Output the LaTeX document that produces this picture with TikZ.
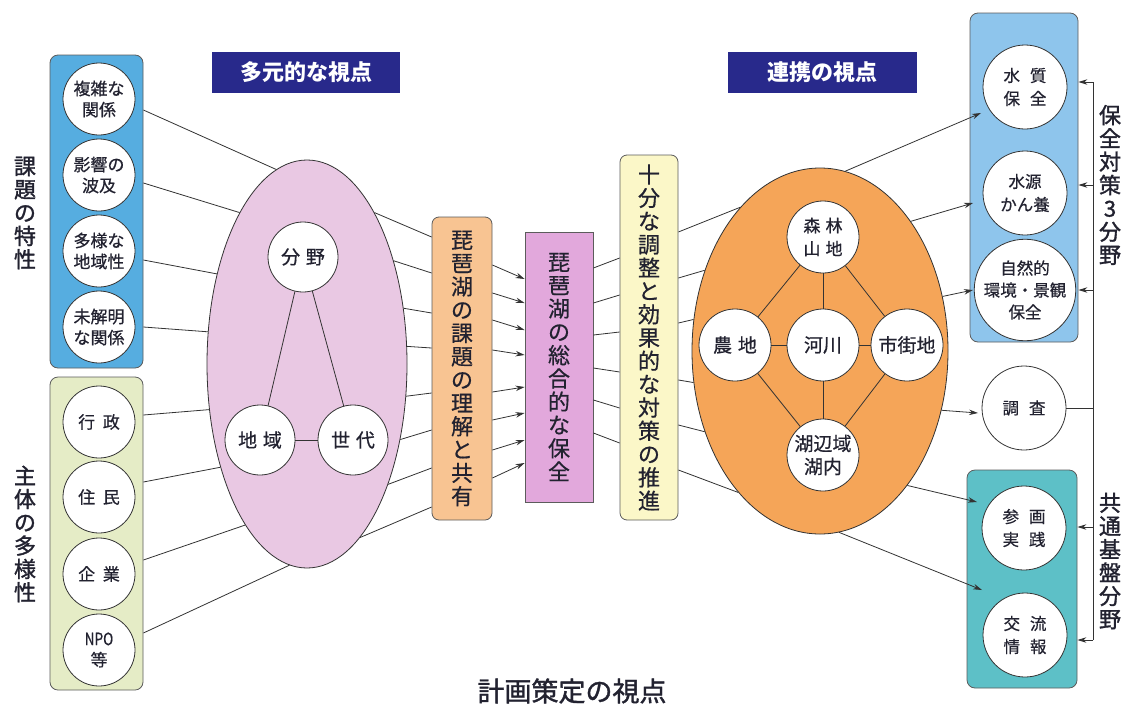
\documentclass[tikz,border=0pt]{standalone}
\usepackage{fontspec}
\newfontfamily\cjk[BoldFont={Noto Sans CJK JP},BoldFeatures={FakeBold=0.6}]{Noto Sans CJK JP}
\newfontfamily\cjkm[BoldFont={Noto Sans CJK JP},BoldFeatures={FakeBold=1.4}]{Noto Sans CJK JP}
\newfontfamily\cjkh{Noto Sans CJK JP}
\usetikzlibrary{shapes.geometric,arrows.meta,calc}
\newcommand\myfs[2]{\fontsize{#1}{#2}\selectfont}
\definecolor{blueL}{HTML}{56ADE0}
\definecolor{blueR}{HTML}{8EC5EC}
\definecolor{greenP}{HTML}{E5ECC6}
\definecolor{pinkO}{HTML}{E9C8E3}
\definecolor{orangeB}{HTML}{F8C492}
\definecolor{purpleB}{HTML}{E2A8DC}
\definecolor{yellowB}{HTML}{FBF7C8}
\definecolor{orangeO}{HTML}{F5A558}
\definecolor{tealP}{HTML}{5DC0C7}
\definecolor{navy}{HTML}{28298B}
\definecolor{linec}{HTML}{333333}
\definecolor{txt}{HTML}{222230}
\begin{document}
\begin{tikzpicture}[x=1pt,y=-1pt,
  ln/.style={draw=linec,line width=0.8pt},
  arr/.style={ln,-{Stealth[length=9pt,width=5.5pt]}},
  panel/.style={draw=linec!80,line width=0.8pt,rounded corners=8pt,inner sep=0pt},
  cnode/.style={circle,draw=linec,fill=white,line width=0.8pt,inner sep=0pt,minimum size=#1,align=center,text=txt},
  cnode/.default=72pt,
  vbox/.style={draw=linec!80,line width=0.8pt,inner sep=0pt,align=center,text=txt,font=\cjk\bfseries\myfs{22}{23.3}},
  vlab/.style={align=center,text=txt,font=\cjkm\bfseries\myfs{22}{23.3},inner sep=0pt},
  head/.style={fill=navy,text=white,inner sep=0pt,minimum height=41pt,font=\cjkh\bfseries\myfs{22}{24}},
  oval/.style={ellipse,draw=linec,line width=0.8pt,inner sep=0pt},
  sf/.style={font=\cjk\bfseries\myfs{17}{21}},
  mf/.style={font=\cjk\bfseries\myfs{19}{23}},
  rf/.style={font=\cjk\bfseries\myfs{16.5}{23}}
]
\useasboundingbox (0,0) rectangle (1126,707);
\fill[white] (0,0) rectangle (1126,707);

% headers
\node[head,minimum width=188pt] (h1) at (306,72.5) {多元的な視点};
\node[head,minimum width=189pt] (h2) at (822.5,72.5) {連携の視点};

% left panels
\node[panel,fill=blueL,minimum width=93pt,minimum height=313pt] (bp) at (96.5,211.5) {};
\node[panel,fill=greenP,minimum width=93pt,minimum height=313pt] (gp) at (96.5,533.5) {};
\node[cnode,sf] (c1) at (99,99) {複雑な\\関係};
\node[cnode,sf] (c2) at (99,175) {影響の\\波及};
\node[cnode,sf] (c3) at (99,251) {多様な\\地域性};
\node[cnode,sf] (c4) at (99,327) {未解明\\な関係};
\node[cnode,sf] (c5) at (99,422) {行\hspace{0.45em}政};
\node[cnode,sf] (c6) at (99,497) {住\hspace{0.45em}民};
\node[cnode,sf] (c7) at (99,574) {企\hspace{0.45em}業};
\node[cnode,sf] (c8) at (99,650) {\scalebox{0.8}[1]{NPO}\\等};
\node[vlab] (l1) at (25,213) {課\\題\\の\\特\\性};
\node[vlab] (l2) at (25,534) {主\\体\\の\\多\\様\\性};

% pink oval
\node[oval,fill=pinkO,minimum width=200pt,minimum height=408pt] (po) at (307,364) {};
\node[cnode=70pt,mf] (bun) at (303,257) {分\hspace{0.3em}野};
\node[cnode=70pt,mf] (chi) at (260,440) {地\hspace{0.3em}域};
\node[cnode=70pt,mf] (sed) at (353,440) {世\hspace{0.3em}代};
\draw[ln] (bun) -- (chi);
\draw[ln] (bun) -- (sed);
\draw[ln] (chi) -- (sed);

% lines left panels -> pink oval
\foreach \ya/\an in {110/99.8, 183/114.7, 260/135.6, 327/162.3}
  \draw[ln] (bp.east |- 0,\ya) -- (po.\an);
\foreach \ya/\an in {415/205.6, 482/230.4, 560/249.3, 633/265.8}
  \draw[ln] (gp.east |- 0,\ya) -- (po.\an);

% vertical boxes
\node[vbox,fill=orangeB,rounded corners=7pt,minimum width=60pt,minimum height=303pt] (ob) at (462,368.5)
  {琵\\琶\\湖\\の\\課\\題\\の\\理\\解\\と\\共\\有};
\node[vbox,fill=purpleB,minimum width=68pt,minimum height=270pt] (pb) at (559,367)
  {琵\\琶\\湖\\の\\総\\合\\的\\な\\保\\全};
\node[vbox,fill=yellowB,rounded corners=7pt,minimum width=58pt,minimum height=365pt] (yb) at (649,337.5)
  {十\\分\\な\\調\\整\\と\\効\\果\\的\\な\\対\\策\\の\\推\\進};

% pink oval -> orange box
\foreach \an/\yb in {66.4/237, 50.4/273, 30.3/313, 10.8/348, 342.4/393, 321.3/430, 304.2/468, 287/507}
  \draw[ln] (po.\an) -- (ob.west |- 0,\yb);
% orange box -> purple box
\foreach \ya/\yb in {265/279, 293/303, 320/330, 350/355, 392/387, 420/413, 450/440, 478/463}
  \draw[arr] (ob.east |- 0,\ya) -- (pb.west |- 0,\yb);
% purple -> yellow
\foreach \ya/\yb in {268/258, 303/295, 335/332, 368/372, 400/408, 433/443}
  \draw[ln] (pb.east |- 0,\ya) -- (yb.west |- 0,\yb);

% orange oval
\node[oval,fill=orangeO,minimum width=256pt,minimum height=366pt] (oo) at (820,351) {};
\foreach \ya/\an in {232/119.9, 278/145.9, 323/166.7, 380/194.1, 425/215.2, 470/240.6}
  \draw[ln] (yb.east |- 0,\ya) -- (oo.\an);
\node[cnode,font=\cjk\bfseries\myfs{17}{23}] (shin) at (823,237) {森\hspace{0.3em}林\\山\hspace{0.3em}地};
\node[cnode,mf] (nou) at (735,345) {農\hspace{0.3em}地};
\node[cnode,mf] (kas) at (823,345) {河川};
\node[cnode,mf] (shi) at (907,345) {市街地};
\node[cnode,mf] (kob) at (823,455) {湖辺域\\湖内};
\draw[ln] (shin) -- (nou);
\draw[ln] (shin) -- (kas);
\draw[ln] (shin) -- (shi);
\draw[ln] (nou) -- (kas);
\draw[ln] (kas) -- (shi);
\draw[ln] (nou) -- (kob);
\draw[ln] (kas) -- (kob);
\draw[ln] (shi) -- (kob);

% right panels
\node[panel,fill=blueR,minimum width=108pt,minimum height=329pt] (rb) at (1024,177.5) {};
\node[panel,fill=tealP,minimum width=110pt,minimum height=218pt] (tb) at (1022,579) {};
\node[cnode=84pt,rf] (r1) at (1025,87) {水\hspace{0.6em}質\\保\hspace{0.6em}全};
\node[cnode=84pt,rf] (r2) at (1025,193) {水源\\かん養};
\node[cnode=84pt,font=\cjk\bfseries\myfs{16.5}{22}] (r3) at (1025,290) {自然的\\環境・景観\\保全};
\node[cnode=84pt,rf] (chosa) at (1024,408) {調\hspace{0.6em}査};
\node[cnode=84pt,rf] (r5) at (1024,528) {参\hspace{0.6em}画\\実\hspace{0.6em}践};
\node[cnode=84pt,rf] (r6) at (1025,635) {交\hspace{0.6em}流\\情\hspace{0.6em}報};

% orange oval -> right
\coordinate (t1) at (981,113);
\coordinate (t2) at (973,203);
\coordinate (t3) at (973,290);
\coordinate (t4) at (978,413);
\coordinate (t5) at (977,502);
\coordinate (t6) at (982,590);
\draw[arr] (oo.82.8) -- (t1);
\draw[arr] (oo.55.3) -- (t2);
\draw[arr] (oo.24.1) -- (t3);
\draw[arr] (oo.334.4) -- (t4);
\draw[arr] (oo.303.9) -- (t5);
\draw[arr] (oo.276.3) -- (t6);

% right bracket
\coordinate (bt) at (1093,82);
\coordinate (bb) at (1093,640);
\draw[ln] (bt) -- (bb);
\foreach \y in {82,185,290}
  \draw[arr] (bt |- 0,\y) -- (rb.east |- 0,\y);
\foreach \y in {527,640}
  \draw[arr] (bt |- 0,\y) -- (tb.east |- 0,\y);
\draw[ln] (chosa.east) -- (bt |- chosa.east);
\node[vlab] (l3) at (1110,185) {保\\全\\対\\策\\3\\分\\野};
\node[vlab] (l4) at (1110,561) {共\\通\\基\\盤\\分\\野};

% bottom title
\node[text=txt,font=\cjkm\bfseries\myfs{27}{29},inner sep=0pt] (title) at (572,691) {計画策定の視点};
\end{tikzpicture}
\end{document}
